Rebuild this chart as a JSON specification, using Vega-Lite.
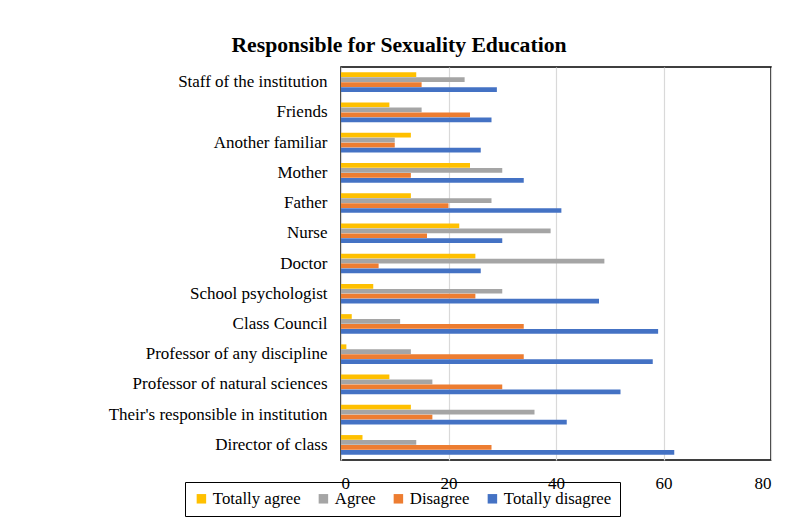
{
  "$schema": "https://vega.github.io/schema/vega-lite/v6.json",
  "autosize": {"type": "none"},
  "width": 430,
  "height": 393,
  "padding": {"left": 341, "top": 67, "right": 19, "bottom": 65},
  "background": "white",
  "title": {
    "text": "Responsible for Sexuality Education",
    "font": "Liberation Serif",
    "fontSize": 21.7,
    "fontWeight": "bold",
    "color": "#000000",
    "anchor": "middle",
    "frame": "group",
    "dx": -157,
    "offset": 10
  },
  "data": {
    "values": [
      {"who": "Staff of the institution", "resp": "Totally agree", "n": 14},
      {"who": "Staff of the institution", "resp": "Agree", "n": 23},
      {"who": "Staff of the institution", "resp": "Disagree", "n": 15},
      {"who": "Staff of the institution", "resp": "Totally disagree", "n": 29},
      {"who": "Friends", "resp": "Totally agree", "n": 9},
      {"who": "Friends", "resp": "Agree", "n": 15},
      {"who": "Friends", "resp": "Disagree", "n": 24},
      {"who": "Friends", "resp": "Totally disagree", "n": 28},
      {"who": "Another familiar", "resp": "Totally agree", "n": 13},
      {"who": "Another familiar", "resp": "Agree", "n": 10},
      {"who": "Another familiar", "resp": "Disagree", "n": 10},
      {"who": "Another familiar", "resp": "Totally disagree", "n": 26},
      {"who": "Mother", "resp": "Totally agree", "n": 24},
      {"who": "Mother", "resp": "Agree", "n": 30},
      {"who": "Mother", "resp": "Disagree", "n": 13},
      {"who": "Mother", "resp": "Totally disagree", "n": 34},
      {"who": "Father", "resp": "Totally agree", "n": 13},
      {"who": "Father", "resp": "Agree", "n": 28},
      {"who": "Father", "resp": "Disagree", "n": 20},
      {"who": "Father", "resp": "Totally disagree", "n": 41},
      {"who": "Nurse", "resp": "Totally agree", "n": 22},
      {"who": "Nurse", "resp": "Agree", "n": 39},
      {"who": "Nurse", "resp": "Disagree", "n": 16},
      {"who": "Nurse", "resp": "Totally disagree", "n": 30},
      {"who": "Doctor", "resp": "Totally agree", "n": 25},
      {"who": "Doctor", "resp": "Agree", "n": 49},
      {"who": "Doctor", "resp": "Disagree", "n": 7},
      {"who": "Doctor", "resp": "Totally disagree", "n": 26},
      {"who": "School psychologist", "resp": "Totally agree", "n": 6},
      {"who": "School psychologist", "resp": "Agree", "n": 30},
      {"who": "School psychologist", "resp": "Disagree", "n": 25},
      {"who": "School psychologist", "resp": "Totally disagree", "n": 48},
      {"who": "Class Council", "resp": "Totally agree", "n": 2},
      {"who": "Class Council", "resp": "Agree", "n": 11},
      {"who": "Class Council", "resp": "Disagree", "n": 34},
      {"who": "Class Council", "resp": "Totally disagree", "n": 59},
      {"who": "Professor of any discipline", "resp": "Totally agree", "n": 1},
      {"who": "Professor of any discipline", "resp": "Agree", "n": 13},
      {"who": "Professor of any discipline", "resp": "Disagree", "n": 34},
      {"who": "Professor of any discipline", "resp": "Totally disagree", "n": 58},
      {"who": "Professor of natural sciences", "resp": "Totally agree", "n": 9},
      {"who": "Professor of natural sciences", "resp": "Agree", "n": 17},
      {"who": "Professor of natural sciences", "resp": "Disagree", "n": 30},
      {"who": "Professor of natural sciences", "resp": "Totally disagree", "n": 52},
      {"who": "Their's responsible in institution", "resp": "Totally agree", "n": 13},
      {"who": "Their's responsible in institution", "resp": "Agree", "n": 36},
      {"who": "Their's responsible in institution", "resp": "Disagree", "n": 17},
      {"who": "Their's responsible in institution", "resp": "Totally disagree", "n": 42},
      {"who": "Director of class", "resp": "Totally agree", "n": 4},
      {"who": "Director of class", "resp": "Agree", "n": 14},
      {"who": "Director of class", "resp": "Disagree", "n": 28},
      {"who": "Director of class", "resp": "Totally disagree", "n": 62}
    ]
  },
  "mark": {"type": "bar"},
  "encoding": {
    "y": {
      "field": "who",
      "type": "nominal",
      "sort": null,
      "title": null,
      "scale": {"paddingInner": 0.35, "paddingOuter": 0.175},
      "axis": {
        "labelFont": "Liberation Serif",
        "labelFontSize": 17,
        "labelColor": "#000000",
        "labelPadding": 14,
        "ticks": false,
        "domain": false,
        "labelLimit": 400
      }
    },
    "yOffset": {
      "field": "resp",
      "type": "nominal",
      "sort": ["Totally agree", "Agree", "Disagree", "Totally disagree"],
      "scale": {"paddingInner": 0.05}
    },
    "x": {
      "field": "n",
      "type": "quantitative",
      "title": null,
      "scale": {"domain": [0, 80]},
      "axis": {
        "values": [0, 20, 40, 60, 80],
        "labelFont": "Liberation Serif",
        "labelFontSize": 17,
        "labelColor": "#000000",
        "labelPadding": 15,
        "ticks": false,
        "domain": false,
        "grid": true,
        "gridColor": "#d9d9d9",
        "gridWidth": 1.2
      }
    },
    "color": {
      "field": "resp",
      "type": "nominal",
      "sort": ["Totally agree", "Agree", "Disagree", "Totally disagree"],
      "scale": {
        "domain": ["Totally agree", "Agree", "Disagree", "Totally disagree"],
        "range": ["#FFC000", "#A5A5A5", "#ED7D31", "#4472C4"]
      },
      "legend": {
        "title": null,
        "orient": "none",
        "legendX": -156,
        "legendY": 415,
        "zindex": 0,
        "direction": "horizontal",
        "columns": 4,
        "symbolType": "square",
        "symbolSize": 90,
        "symbolStrokeWidth": 0,
        "labelFont": "Liberation Serif",
        "labelFontSize": 16.8,
        "labelColor": "#000000",
        "columnPadding": 14,
        "labelOffset": 3,
        "padding": 8,
        "strokeColor": "#000000",
        "fillColor": "transparent"
      }
    }
  },
  "config": {
    "view": {"stroke": "#000000", "strokeWidth": 1.5}
  }
}
